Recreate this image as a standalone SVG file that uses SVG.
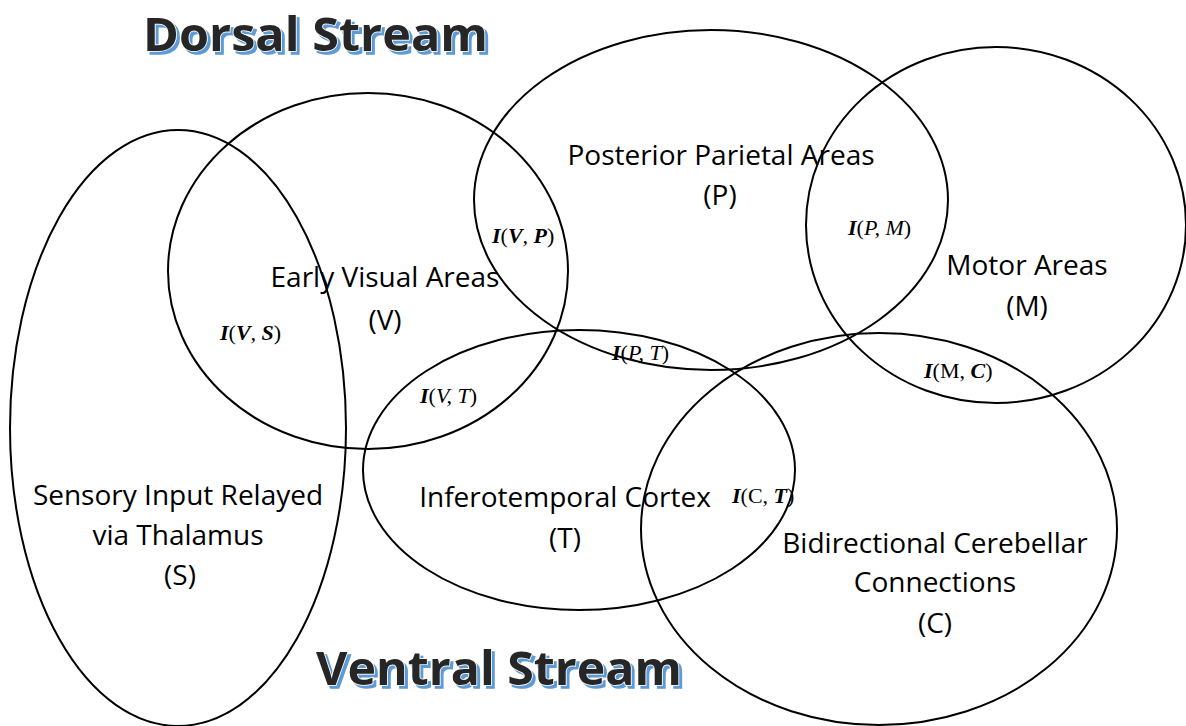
<svg xmlns="http://www.w3.org/2000/svg" width="1186" height="726" viewBox="0 0 1186 726">
<defs>
<filter id="sh" x="-5%" y="-20%" width="110%" height="150%">
<feFlood flood-color="#5b9bd5" result="f"/>
<feComposite in="f" in2="SourceAlpha" operator="in" result="c"/>
<feOffset in="c" dx="3" dy="3" result="o"/>
<feMerge><feMergeNode in="o"/><feMergeNode in="SourceGraphic"/></feMerge>
</filter>
</defs>
<style>
.e{fill:none;stroke:#000;stroke-width:2}
.l{font-family:"Open Sans","Noto Sans",sans-serif;font-size:28px;fill:#000;text-anchor:middle}
.m{font-family:"Liberation Serif","Times New Roman",serif;font-size:22px;font-style:italic;fill:#000}
.b{font-weight:bold}
.u{font-style:normal}
.t{font-family:"Open Sans","Noto Sans",sans-serif;font-weight:bold;font-size:47px;fill:#262626;stroke:#fff;stroke-width:1.5;paint-order:stroke;filter:url(#sh)}
</style>
<rect width="1186" height="726" fill="#fff"/>
<g id="titles">
<text class="t" x="143" y="51" textLength="345" lengthAdjust="spacingAndGlyphs">Dorsal Stream</text>
<text class="t" x="316" y="685" textLength="366" lengthAdjust="spacingAndGlyphs">Ventral Stream</text>
</g>
<g id="connectors"></g>
<g id="S"><ellipse class="e" cx="178" cy="428" rx="168" ry="298"/>
<text class="l" x="178" y="505">Sensory Input Relayed</text><text class="l" x="178" y="545">via Thalamus</text><text class="l" x="180" y="585">(S)</text></g>
<g id="V"><ellipse class="e" cx="368" cy="271" rx="200" ry="178"/>
<text class="l" x="385" y="287">Early Visual Areas</text><text class="l" x="385" y="330">(V)</text></g>
<g id="P"><ellipse class="e" cx="711" cy="200" rx="237" ry="170"/>
<text class="l" x="721" y="165">Posterior Parietal Areas</text><text class="l" x="720" y="205">(P)</text></g>
<g id="M"><ellipse class="e" cx="996" cy="225" rx="190" ry="178"/>
<text class="l" x="1027" y="275">Motor Areas</text><text class="l" x="1027" y="316">(M)</text></g>
<g id="T"><ellipse class="e" cx="579" cy="470" rx="216" ry="140"/>
<text class="l" x="565" y="507">Inferotemporal Cortex</text><text class="l" x="565" y="548">(T)</text></g>
<g id="C"><ellipse class="e" cx="879" cy="529" rx="238" ry="196"/>
<text class="l" x="935" y="553">Bidirectional Cerebellar</text><text class="l" x="935" y="592">Connections</text><text class="l" x="935" y="633">(C)</text></g>
<g id="intersections">
<text class="m" x="492" y="243"><tspan class="b">I</tspan><tspan class="u">(</tspan><tspan class="b">V</tspan>, <tspan class="b">P</tspan><tspan class="u">)</tspan></text>
<text class="m" x="848" y="235"><tspan class="b">I</tspan><tspan class="u">(</tspan>P, M<tspan class="u">)</tspan></text>
<text class="m" x="220" y="340"><tspan class="b">I</tspan><tspan class="u">(</tspan><tspan class="b">V</tspan>, <tspan class="b">S</tspan><tspan class="u">)</tspan></text>
<text class="m" x="612" y="360"><tspan class="b">I</tspan><tspan class="u">(</tspan>P, T<tspan class="u">)</tspan></text>
<text class="m" x="420" y="403"><tspan class="b">I</tspan><tspan class="u">(</tspan>V, T<tspan class="u">)</tspan></text>
<text class="m" x="924" y="378"><tspan class="b">I</tspan><tspan class="u">(M, </tspan><tspan class="b">C</tspan><tspan class="u">)</tspan></text>
<text class="m" x="732" y="503"><tspan class="b">I</tspan><tspan class="u">(C, </tspan><tspan class="b">T</tspan><tspan class="u">)</tspan></text>
</g>
</svg>
